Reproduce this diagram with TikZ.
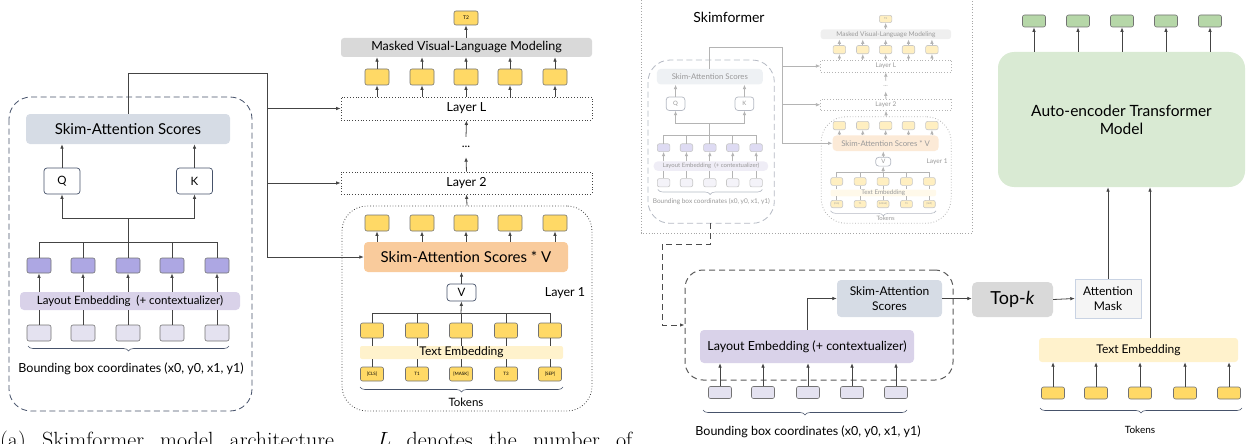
\documentclass[tikz,border=0pt]{standalone}
\usepackage{fontspec}
\setsansfont{Lato}
\renewcommand{\familydefault}{\sfdefault}
\usetikzlibrary{arrows.meta,decorations.pathreplacing}

\definecolor{skimblue}{HTML}{D6DCE5}
\definecolor{laypurple}{HTML}{D9D2E9}
\definecolor{purplebox}{HTML}{ADA7E3}
\definecolor{bboxfill}{HTML}{E4E2F0}
\definecolor{tokyellow}{HTML}{FFD966}
\definecolor{tembyellow}{HTML}{FFF2CC}
\definecolor{saorange}{HTML}{F9CB9C}
\definecolor{mvlmgray}{HTML}{D9D9D9}
\definecolor{aegreen}{HTML}{D9EAD3}
\definecolor{outgreen}{HTML}{B6D7A8}
\definecolor{slate}{HTML}{46526A}
\definecolor{linegray}{HTML}{444444}
\definecolor{maskedge}{HTML}{C9D3E3}

\newcommand{\fsz}[2]{\fontsize{#1}{#2}\selectfont}

\tikzset{
  >={Latex[length=4.5pt,width=3.6pt]},
  conn/.style={draw=linegray, line width=0.8pt},
  cell/.style={draw=black!55, line width=0.6pt, rounded corners=2pt, inner sep=0pt,
    minimum width=24pt, minimum height=15pt},
  ytok/.style={cell, fill=tokyellow},
  ptok/.style={cell, fill=purplebox},
  btok/.style={cell, fill=bboxfill},
  gtok/.style={cell, fill=outgreen},
  band/.style={rounded corners=4pt, inner sep=0pt},
  proj/.style={draw=slate, fill=white, rounded corners=3pt, line width=0.7pt, inner sep=0pt,
    minimum width=36pt, minimum height=26pt, font=\fsz{11.5}{13}},
  layerbox/.style={draw=linegray, dotted, line width=0.8pt, inner sep=0pt,
    minimum width=251pt, minimum height=23pt, font=\fsz{12.5}{14}},
  brc/.style={decorate, decoration={brace, mirror, amplitude=5pt}, draw=slate, line width=0.6pt},
  skimnet/.pic={
    \draw[slate, line width=0.8pt, dash pattern=on 6pt off 3.5pt, rounded corners=22pt]
      (9,97) rectangle (252,411);
    \coordinate (-bot) at (130,411);
    \node[band, fill=skimblue, minimum width=204pt, minimum height=30pt, font=\fsz{15}{17}]
      (-sas) at (128,129) {Skim-Attention Scores};
    \node[proj] (-q) at (62,181) {Q};
    \node[proj] (-k) at (194.5,181) {K};
    \node[band, fill=laypurple, minimum width=220pt, minimum height=18pt, font=\fsz{11.5}{13}]
      (-lemb) at (130,301) {Layout Embedding\enspace(+ contextualizer)};
    \foreach \x [count=\i] in {39,83,128,172,217}{
      \node[ptok] (-p\i) at (\x,265.5) {};
      \node[btok, minimum height=16pt] (-b\i) at (\x,333) {};
    }
    \coordinate (-qk) at (128,218);
    \coordinate (-fan) at (128,242);
    \foreach \i in {1,...,5}{
      \draw[conn] (-b\i.north) -- (-b\i.north |- -lemb.south);
      \draw[conn,->] (-p\i.south |- -lemb.north) -- (-p\i.south);
      \draw[conn] (-p\i.north) -- (-p\i.north |- -fan);
    }
    \draw[conn] (-p1.north |- -fan) -- (-p5.north |- -fan);
    \draw[conn] (-fan) -- (-qk);
    \draw[conn,->] (-qk) -| (-q.south);
    \draw[conn,->] (-qk) -| (-k.south);
    \draw[conn,->] (-q.north) -- (-q.north |- -sas.south);
    \draw[conn,->] (-k.north) -- (-k.north |- -sas.south);
    \draw[brc] (28,346) -- (229,346);
    \node[font=\fsz{12.5}{14}] (-bbl) at (131,369) {Bounding box coordinates (x0, y0, x1, y1)};
    \node[ytok, minimum height=14pt, font=\fsz{5}{6}] (-t2) at (466,18) {T2};
    \node[band, fill=mvlmgray, rounded corners=3pt, minimum width=251pt, minimum height=19pt,
      font=\fsz{12.5}{14}] (-mvlm) at (466.5,47.5) {Masked Visual-Language Modeling};
    \node[layerbox] (-layL) at (466.5,108.5) {Layer L};
    \node[font=\fsz{12}{14}, minimum height=20pt, inner sep=0pt] (-dots) at (466,147) {...};
    \node[layerbox, minimum height=22pt] (-lay2) at (466.5,183) {Layer 2};
    \node[draw=linegray, dotted, line width=0.8pt, rounded corners=25pt, minimum width=250pt,
      minimum height=205pt] (-lay1) at (467,308.5) {};
    \foreach \x [count=\i] in {377,422,466,510,555}{
      \node[ytok, minimum height=16pt] (-u\i) at (\x,77) {};
      \node[ytok, minimum height=16pt] (-w\i) at (\x,223) {};
    }
    \node[band, fill=saorange, minimum width=204pt, minimum height=30pt, font=\fsz{15}{17}]
      (-sav) at (466,257) {Skim-Attention Scores * V};
    \node[proj, minimum width=29pt, minimum height=17pt] (-v) at (461.5,292.5) {V};
    \node[font=\fsz{12.5}{14}] (-l1lab) at (565,293) {Layer 1};
    \node[band, fill=tembyellow, rounded corners=2pt, minimum width=203pt, minimum height=13pt,
      font=\fsz{12}{13}] (-temb) at (461.5,352.5) {Text Embedding};
    \foreach \x/\t [count=\i] in {372/[CLS],417/T1,461/[MASK],506/T3,550/[SEP]}{
      \node[ytok, minimum width=23pt] (-e\i) at (\x,330.5) {};
      \node[ytok, minimum width=23pt, minimum height=14pt, font=\fsz{4.5}{5}] (-tk\i) at (\x,374) {\t};
    }
    \coordinate (-vfan) at (461,313);
    \foreach \i in {1,...,5}{
      \draw[conn,->] (-u\i.south |- -layL.north) -- (-u\i.south);
      \draw[conn,->] (-u\i.north) -- (-u\i.north |- -mvlm.south);
      \draw[conn,->] (-w\i.south |- -sav.north) -- (-w\i.south);
      \draw[conn] (-tk\i.north) -- (-tk\i.north |- -temb.south);
      \draw[conn] (-e\i.south |- -temb.north) -- (-e\i.south);
      \draw[conn] (-e\i.north) -- (-e\i.north |- -vfan);
    }
    \draw[conn] (-e1.north |- -vfan) -- (-e5.north |- -vfan);
    \draw[conn,->] (-vfan) -- (-v.south);
    \draw[conn,->] (-v.north) -- (-v.north |- -sav.south);
    \draw[conn,->] (-t2.south |- -mvlm.north) -- (-t2.south);
    \draw[conn,->] (-lay2.north) -- (-dots.south);
    \draw[conn,->] (-dots.north) -- (-layL.south);
    \draw[conn,->] (-lay1.north) -- (-lay2.south);
    \draw[brc] (360,387) -- (563,387);
    \node[font=\fsz{11.5}{13}] (-tokl) at (466,402) {Tokens};
    \coordinate (-bus) at (267,73);
    \draw[conn,->] (-sas.north) |- (-bus) |- (-sav.west);
    \draw[conn,->] (-bus |- -layL.west) -- (-layL.west);
    \draw[conn,->] (-bus |- -lay2.west) -- (-lay2.west);
  }
}

\begin{document}
\begin{tikzpicture}[x=1pt, y=-1pt]
  \useasboundingbox (0,0) rectangle (1256,444);
  \clip (0,0) rectangle (1256,444);

  \pic (a) at (0,0) {skimnet};

  \pic[scale=0.52, transform shape] (m) at (643.3,9.6) {skimnet};
  \fill[white, opacity=0.6] (641,0) rectangle (972,233);
  \draw[gray!70, dotted, line width=0.8pt] (641,0) -- (641,233) -- (972,233) -- (972,0);
  \node[font=\fsz{14}{16}] (sk) at (729,17) {Skimformer};

  \node[draw=black!65, line width=1pt, dash pattern=on 6pt off 4pt, rounded corners=18pt,
    minimum width=268pt, minimum height=110pt] (skimb) at (819,325) {};
  \node[band, fill=skimblue, minimum width=105pt, minimum height=37pt, align=center,
    font=\fsz{12}{15}] (sas2) at (889.5,298.5) {Skim-Attention\\Scores};
  \node[band, fill=laypurple, minimum width=214pt, minimum height=33pt, font=\fsz{12.5}{14}]
    (lemb2) at (807,346.5) {Layout Embedding (+ contextualizer)};
  \foreach \x [count=\i] in {720,763,808,852,896}{
    \node[btok, minimum width=23pt, minimum height=12pt] (bb\i) at (\x,392.5) {};
    \draw[conn,->] (bb\i.north) -- (bb\i.north |- lemb2.south);
  }
  \draw[brc] (703,410) -- (907,410);
  \node[font=\fsz{12.5}{14}] (bbl2) at (808,432) {Bounding box coordinates (x0, y0, x1, y1)};
  \draw[conn,->] (lemb2.north) |- (sas2.west);

  \node[band, fill=mvlmgray, rounded corners=5pt, minimum width=81pt, minimum height=35pt,
    font=\fsz{18}{20}] (topk) at (1012.5,299.5) {Top-\textit{k}};
  \node[draw=maskedge, fill=gray!8, minimum width=66pt, minimum height=39pt, inner sep=0pt,
    align=center, font=\fsz{12}{15}] (mask) at (1108,298.5) {Attention\\Mask};
  \draw[conn,->] (sas2.east) -- (sas2.east -| topk.west);
  \draw[conn,->] (topk.east) -- (mask.west);

  \node[band, fill=aegreen, rounded corners=16pt, minimum width=247pt, minimum height=135pt,
    align=center, font=\fsz{15.5}{18}] (ae) at (1121.5,119.5) {Auto-encoder Transformer\\Model};
  \draw[conn,->] (mask.north) -- (mask.north |- ae.south);
  \node[band, fill=tembyellow, rounded corners=3pt, minimum width=199pt, minimum height=24pt,
    font=\fsz{12}{14}] (temb2) at (1138.5,350) {Text Embedding};
  \draw[conn,->] ([xshift=11.5pt]temb2.north) -- ([xshift=11.5pt]temb2.north |- ae.south);
  \foreach \x [count=\i] in {1034,1078,1122,1166,1210}{
    \node[gtok, minimum width=23pt, minimum height=12pt] (g\i) at (\x,21) {};
    \draw[conn,->] (g\i.south |- ae.north) -- (g\i.south);
  }
  \foreach \x [count=\i] in {1053,1096,1140,1185,1229}{
    \node[ytok, minimum width=23pt, minimum height=12pt] (y\i) at (\x,393) {};
    \draw[conn,->] (y\i.north) -- (y\i.north |- temb2.south);
  }
  \draw[brc] (1040,408) -- (1242,408);
  \node[font=\fsz{10}{12}] (tokl2) at (1140,430) {Tokens};

  \coordinate (turn) at (662,244);
  \draw[black!70, line width=1pt, dash pattern=on 6pt off 4pt, ->] (m-bot) |- (turn) |- (skimb.west);

  \node[anchor=base west, inner sep=0pt, font=\rmfamily\fsz{22}{26}] (cap) at (0,447)
    {\makebox[632pt][s]{(a) Skimformer model architecture. \textit{L} denotes the number of}};
\end{tikzpicture}
\end{document}
